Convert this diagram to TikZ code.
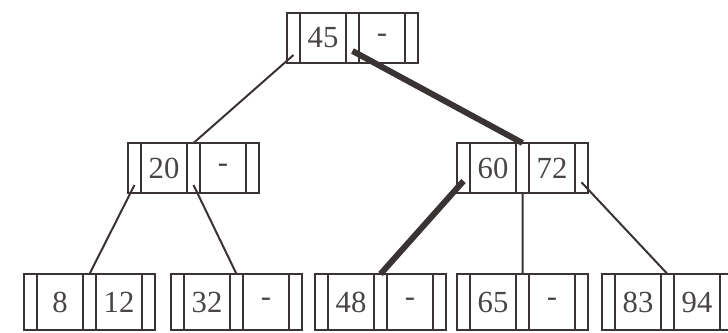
\documentclass[tikz,border=0pt]{standalone}
\usepackage{fontspec}
\setmainfont{Liberation Serif}
\usetikzlibrary{positioning}

\definecolor{ink}{HTML}{3A3333}
\definecolor{digit}{HTML}{4A4545}

\tikzset{
	slot/.style={draw=ink, line width=1.7pt, outer sep=0pt, inner sep=0pt,
		minimum width=9.75pt, minimum height=37.5pt},
	keybox/.style={slot, minimum width=34.5pt, text=digit,
		font=\fontsize{23}{26}\selectfont},
	leaf/.style={minimum height=42pt},
	link/.style={draw=ink, line width=1.5pt},
	heavy/.style={draw=ink, line width=4.5pt}
}

% one node of the tree: pointer, key, pointer, key, pointer
\newcommand{\btnode}[5]{%
	\node[slot,#5,anchor=north west] (#1-p0) at (#2) {};
	\node[keybox,#5,right=0pt of #1-p0] (#1-k1) {#3};
	\node[slot,#5,right=0pt of #1-k1] (#1-p1) {};
	\node[keybox,#5,right=0pt of #1-p1] (#1-k2) {#4};
	\node[slot,#5,right=0pt of #1-k2] (#1-p2) {};
}

\begin{document}
\begin{tikzpicture}[x=0.75pt,y=-0.75pt]
\useasboundingbox (0,0) rectangle (728,332);

\begin{scope}
	\coordinate (s0) at (287,13);
	\coordinate (s1) at (128,143);
	\coordinate (s2) at (457,143);
	%
	\coordinate (s3) at (24,274);
	\coordinate (s4) at ([xshift=147*0.75pt]s3);
	\coordinate (s5) at ([xshift=144*0.75pt]s4);
	\coordinate (s6) at ([xshift=142*0.75pt]s5);
	\coordinate (s7) at ([xshift=145*0.75pt]s6);
\end{scope}

\btnode{b0}{s0}{45}{-}{}
\btnode{b1}{s1}{20}{-}{}
\btnode{b2}{s2}{60}{72}{}
\btnode{b3}{s3}{8}{12}{leaf}
\btnode{b4}{s4}{32}{-}{leaf}
\btnode{b5}{s5}{48}{-}{leaf}
\btnode{b6}{s6}{65}{-}{leaf}
\btnode{b7}{s7}{83}{94}{leaf}

\draw[link]
	([yshift=6pt]b0-p0.south) -- (b1-p1.north)
	([yshift=6pt]b1-p0.south) -- (b3-p1.north)
	([yshift=6pt]b1-p1.south) -- (b4-p1.north)
	(b2-p1.south) -- (b6-p1.north)
	([yshift=8pt]b2-p2.south) -- (b7-p1.north);
\draw[heavy]
	([yshift=9pt]b0-p1.south) -- (b2-p1.north)
	([yshift=9pt]b2-p0.south) -- (b5-p1.north);

\end{tikzpicture}
\end{document}
